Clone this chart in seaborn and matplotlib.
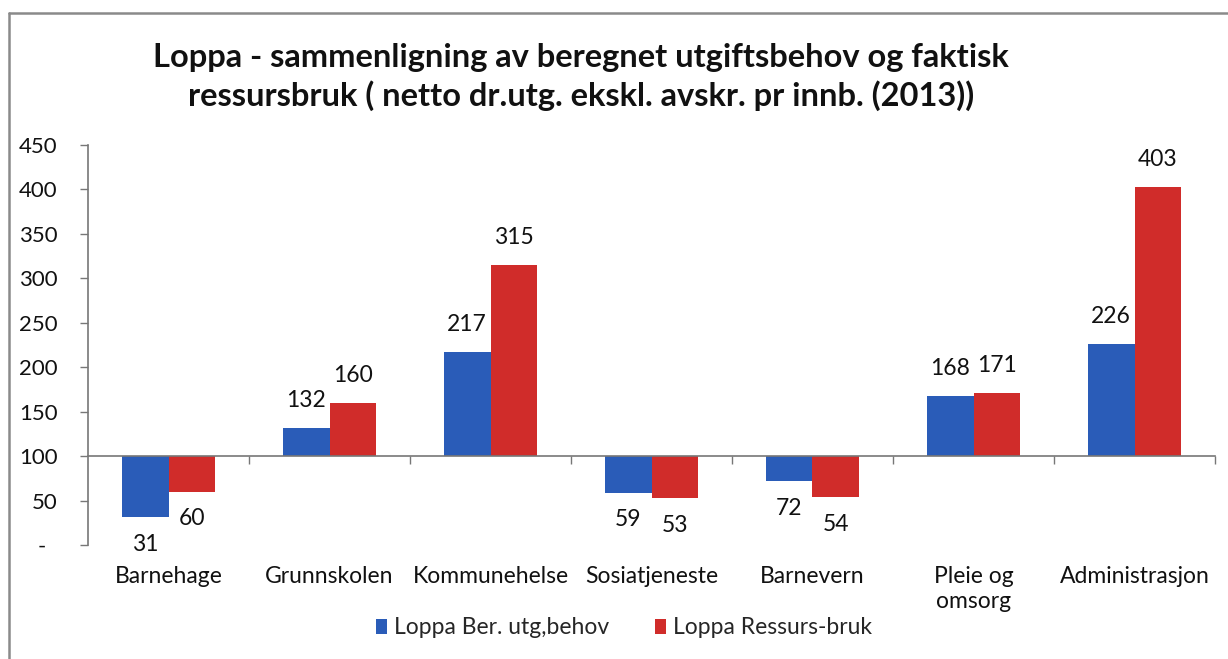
import matplotlib
matplotlib.use("Agg")
import matplotlib.pyplot as plt
from matplotlib.lines import Line2D
import seaborn as sns
import pandas as pd

categories = ["Barnehage", "Grunnskolen", "Kommunehelse", "Sosiatjeneste",
              "Barnevern", "Pleie og\nomsorg", "Administrasjon"]
series_names = ["Loppa Ber. utg,behov", "Loppa Ressurs-bruk"]
behov = [31, 132, 217, 59, 72, 168, 226]
ressurs = [60, 160, 315, 53, 54, 171, 403]
baseline = 100
y_ticks = [0, 50, 100, 150, 200, 250, 300, 350, 400, 450]
y_tick_labels = ["-  ", "50", "100", "150", "200", "250", "300", "350", "400", "450"]
title = ("Loppa - sammenligning av beregnet utgiftsbehov og faktisk\n"
         "ressursbruk ( netto dr.utg. ekskl. avskr. pr innb. (2013))")

colors = ["#2A5CB8", "#D02C2A"]

sns.set_theme(style="white")
plt.rcParams["font.family"] = ["Lato", "DejaVu Sans"]

df = pd.DataFrame({
    "Kategori": categories * 2,
    "Serie": [series_names[0]] * len(categories) + [series_names[1]] * len(categories),
    "Verdi": behov + ressurs,
})
df["Hoyde"] = df["Verdi"] - baseline

fig = plt.figure(figsize=(12.28, 6.59), dpi=100)
ax = fig.add_axes([88 / 1228, 1 - 545 / 659, (1215 - 88) / 1228, 400 / 659])

sns.barplot(data=df, x="Kategori", y="Hoyde", hue="Serie", palette=colors,
            bottom=baseline, width=0.58, saturation=1, ax=ax,
            edgecolor="none", linewidth=0, legend=False)

ax.set_ylim(0, 450)
ax.set_xlim(-0.5, len(categories) - 0.5)
ax.set_xlabel("")
ax.set_ylabel("")

# value labels
for cont, vals in zip(ax.containers, [behov, ressurs]):
    ax.bar_label(cont, labels=[str(v) for v in vals], padding=12,
                 fontsize=16.5, color="#111111")

# y axis
ax.set_yticks(y_ticks)
ax.set_yticklabels(y_tick_labels, fontsize=16, color="#111111")
ax.tick_params(axis="y", direction="out", length=6, width=1, color="#777777",
               left=True, pad=16)
for s in ["top", "right"]:
    ax.spines[s].set_visible(False)
ax.spines["left"].set_color("#777777")
ax.spines["left"].set_linewidth(1.2)

# x axis line at baseline with boundary ticks
ax.spines["bottom"].set_position(("data", baseline))
ax.spines["bottom"].set_color("#777777")
ax.spines["bottom"].set_linewidth(1.2)
ax.set_xticks(range(len(categories)))
ax.set_xticklabels([""] * len(categories))
ax.tick_params(axis="x", which="major", length=0)
ax.set_xticks([i + 0.5 for i in range(len(categories))], minor=True)
ax.tick_params(axis="x", which="minor", direction="out", length=6, width=1,
               color="#777777", bottom=True)

sec = ax.secondary_xaxis(0)
sec.set_xticks(range(len(categories)))
sec.set_xticklabels(categories, fontsize=16.5, color="#111111", va="top",
                    linespacing=1.25)
sec.tick_params(length=0, pad=15)
sec.spines["bottom"].set_visible(False)

# legend
handles = [cont.patches[0] for cont in ax.containers]
ax.legend(handles, series_names, loc="center",
          bbox_to_anchor=(624 / 1228, 1 - 628 / 659),
          bbox_transform=fig.transFigure, ncol=2, frameon=False,
          fontsize=16.5, handlelength=0.5, handleheight=0.6,
          handletextpad=0.3, columnspacing=2.0)

fig.text(581 / 1228, 1 - 77 / 659, title, ha="center", va="center",
         fontsize=23.5, fontweight="bold", color="#111111", linespacing=1.35)

# chart border (left and top)
fig.add_artist(Line2D([9 / 1228, 9 / 1228], [0, 1 - 13 / 659],
                      transform=fig.transFigure, color="#8a8a8a", lw=1.8))
fig.add_artist(Line2D([9 / 1228, 1], [1 - 13 / 659, 1 - 13 / 659],
                      transform=fig.transFigure, color="#8a8a8a", lw=1.8))

fig.savefig("out.png", dpi=100)
